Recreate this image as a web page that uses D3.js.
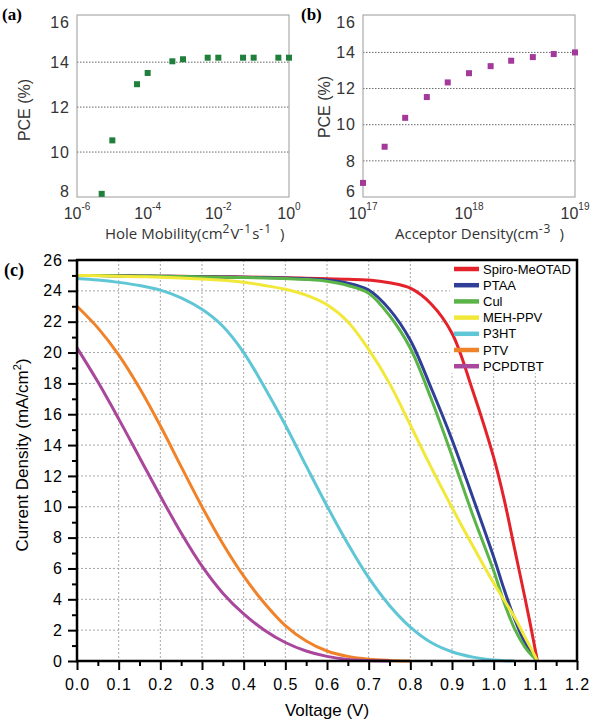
<!DOCTYPE html>
<html>
<head>
<meta charset="utf-8">
<script src="https://cdn.jsdelivr.net/npm/d3@7"></script>
<style>
  body { margin: 0; background: #fff; }
  text { font-family: "Liberation Sans", Arial, sans-serif; }
</style>
</head>
<body>
<div id="chart"></div>
<script>
// (a) PCE vs hole mobility
const mobility = [5e-6, 1e-5, 5e-5, 1e-4, 5e-4, 1e-3, 5e-3, 1e-2, 5e-2, 1e-1, 5e-1, 1];
const pceMobility = [8.14, 10.52, 13.02, 13.52, 14.04, 14.13, 14.2, 14.2, 14.2, 14.2, 14.2, 14.2];
const mobilityTicks = [-6, -4, -2, 0];

// (b) PCE vs acceptor density
const acceptor = [1e17, 1.6e17, 2.5e17, 4e17, 6.3e17, 1e18, 1.6e18, 2.5e18, 4e18, 6.3e18, 1e19];
const pceAcceptor = [6.78, 8.78, 10.38, 11.53, 12.34, 12.85, 13.24, 13.54, 13.74, 13.91, 14.0];
const acceptorTicks = [17, 18, 19];

// (c) J-V curves
const voltage = [0, 0.05, 0.1, 0.15, 0.2, 0.25, 0.3, 0.35, 0.4, 0.45, 0.5, 0.55, 0.6, 0.65,
  0.7, 0.75, 0.8, 0.85, 0.9, 0.95, 1.0, 1.025, 1.05, 1.075, 1.09, 1.105];
const spiro = [25.0, 25.0, 24.98, 24.97, 24.95, 24.94, 24.93, 24.92, 24.9, 24.88, 24.85, 24.82, 24.78, 24.75,
  24.7, 24.52, 24.17, 23.15, 21.25, 17.5, 13.2, 10.5, 7.3, 4.1, 2.1, 0];
const ptaa = [25.0, 24.99, 24.98, 24.96, 24.95, 24.93, 24.92, 24.9, 24.88, 24.86, 24.83, 24.78, 24.7, 24.5,
  24.05, 22.8, 20.8, 17.7, 14.35, 10.6, 6.75, 4.65, 2.75, 1.2, 0.55, 0];
const cui = [25.0, 24.99, 24.97, 24.96, 24.94, 24.93, 24.9, 24.88, 24.86, 24.84, 24.8, 24.74, 24.62, 24.35,
  23.85, 22.4, 20.28, 17.0, 13.3, 9.45, 5.85, 3.8, 2.1, 0.9, 0.4, 0];
const mehppv = [25.0, 24.98, 24.95, 24.92, 24.88, 24.83, 24.77, 24.68, 24.55, 24.35, 24.1, 23.72, 23.1, 22.0,
  20.2, 18.0, 15.3, 12.55, 9.95, 7.45, 5.05, 3.95, 2.85, 1.55, 0.8, 0];
const p3ht = [24.8, 24.7, 24.55, 24.35, 24.05, 23.55, 22.8, 21.7, 20.0, 17.75, 15.3, 12.65, 10.05, 7.6,
  5.4, 3.6, 2.2, 1.2, 0.6, 0.25, 0.06, 0.02, 0, null, null, null];
const ptv = [23.0, 21.6, 19.85, 17.7, 15.25, 12.6, 10.0, 7.6, 5.5, 3.75, 2.3, 1.3, 0.65, 0.3,
  0.12, 0.04, 0, null, null, null, null, null, null, null, null, null];
const pcpdtbt = [20.3, 18.1, 15.7, 13.2, 10.7, 8.3, 6.15, 4.4, 3.05, 2.0, 1.2, 0.65, 0.3, 0.1,
  0.03, 0, null, null, null, null, null, null, null, null, null, null];

const seriesNames = ["Spiro-MeOTAD", "PTAA", "CuI", "MEH-PPV", "P3HT", "PTV", "PCPDTBT"];
const seriesValues = [spiro, ptaa, cui, mehppv, p3ht, ptv, pcpdtbt];
const legendLabels = ["Spiro-MeOTAD", "PTAA", "Cul", "MEH-PPV", "P3HT", "PTV", "PCPDTBT"];
const colors = ["#e3222a", "#2f3e96", "#5ab448", "#f1e83a", "#5fc6d6", "#f0822a", "#a8479b"];

const svg = d3.select("#chart").append("svg")
  .attr("width", 600)
  .attr("height", 724);

// ---------- small scatter panels ----------
function scatterPanel(o) {
  const g = svg.append("g");
  const x = d3.scaleLog().domain(o.xDomain).range([o.left, o.right]);
  const y = d3.scaleLinear().domain(o.yDomain).range([197, 15]);

  g.selectAll(".grid")
    .data(o.grid)
    .enter()
    .append("line")
    .attr("x1", o.left).attr("x2", o.right)
    .attr("y1", (d) => y(d)).attr("y2", (d) => y(d))
    .attr("stroke", "#666")
    .attr("stroke-width", 1)
    .attr("stroke-dasharray", "1.5,1.5");

  g.append("rect")
    .attr("x", o.left).attr("y", 15)
    .attr("width", o.right - o.left).attr("height", 182)
    .attr("fill", "none")
    .attr("stroke", "#9a9a9a")
    .attr("stroke-width", 1);

  g.selectAll(".ylab")
    .data(o.yTicks)
    .enter()
    .append("text")
    .attr("x", o.left - 7)
    .attr("y", (d) => Math.min(Math.max(y(d), 22), 191))
    .attr("dy", "0.36em")
    .attr("text-anchor", "end")
    .style("font-size", "16px")
    .style("letter-spacing", "1px")
    .attr("fill", "#333")
    .text((d) => d);

  const xl = g.selectAll(".xlab")
    .data(o.xTicks)
    .enter()
    .append("text")
    .attr("x", (d) => x(Math.pow(10, d)))
    .attr("y", 219)
    .attr("text-anchor", "middle")
    .style("font-size", "16px")
    .attr("fill", "#333");
  xl.append("tspan").text("10");
  xl.append("tspan").attr("dy", -9).style("font-size", "10px").text((d) => d);

  g.selectAll(".pt")
    .data(o.xs.map((d, i) => [d, o.ys[i]]))
    .enter()
    .append("rect")
    .attr("x", (d) => x(d[0]) - 3)
    .attr("y", (d) => y(d[1]) - 3)
    .attr("width", 6)
    .attr("height", 6)
    .attr("fill", o.color);

  g.append("text")
    .attr("transform", "translate(" + o.titleX + "," + o.titleY + ") rotate(-90)")
    .attr("text-anchor", "middle")
    .style("font-size", "16px")
    .attr("fill", "#333")
    .text("PCE (%)");

  const xt = g.append("text")
    .attr("x", o.xTitleX)
    .attr("y", 239)
    .style("font-family", "'Open Sans', sans-serif")
    .style("font-size", "15px")
    .attr("fill", "#333");
  o.xTitle.forEach((p) => {
    const t = xt.append("tspan").text(p[0]);
    if (p[1]) t.attr("dy", p[1]);
    if (p[1] < 0) t.style("font-size", "12px").style("letter-spacing", "1px");
    if (p[2]) t.attr("dx", p[2]);
  });

  svg.append("text")
    .attr("x", o.tagX).attr("y", 20)
    .style("font-family", "'Liberation Serif', 'Times New Roman', serif")
    .style("font-weight", "bold")
    .style("font-size", "17px")
    .text(o.tag);
}

scatterPanel({
  left: 77, right: 289,
  xDomain: [1e-6, 1], yDomain: [8, 16.1],
  grid: [10, 12, 14], yTicks: [8, 10, 12, 14, 16], xTicks: mobilityTicks,
  xs: mobility, ys: pceMobility, color: "#1f7f3b",
  titleX: 30, titleY: 110, tag: "(a)", tagX: 2,
  xTitleX: 105,
  xTitle: [["Hole Mobility(cm"], ["2", -6], ["V", 6], ["-1", -6], ["s", 6], ["-1", -6], [")", 6, 8]],
});

scatterPanel({
  left: 363, right: 575,
  xDomain: [1e17, 1e19], yDomain: [6, 16.07],
  grid: [8, 10, 12, 14], yTicks: [6, 8, 10, 12, 14, 16], xTicks: acceptorTicks,
  xs: acceptor, ys: pceAcceptor, color: "#a3399b",
  titleX: 330, titleY: 107, tag: "(b)", tagX: 301,
  xTitleX: 395,
  xTitle: [["Acceptor Density(cm"], ["-3", -6], [")", 6, 8]],
});

// ---------- panel (c) ----------
const pLeft = 77, pRight = 577, pTop = 260, pBottom = 661;
const x = d3.scaleLinear().domain([0, 1.2]).range([pLeft, pRight]);
const y = d3.scaleLinear().domain([0, 26]).range([pBottom, pTop]);
const gc = svg.append("g");

// dotted grid
gc.selectAll(".vg")
  .data(d3.range(1, 12).map((i) => i / 10))
  .enter()
  .append("line")
  .attr("x1", (d) => x(d)).attr("x2", (d) => x(d))
  .attr("y1", pTop).attr("y2", pBottom)
  .attr("stroke", "#a8a8a8")
  .attr("stroke-dasharray", "2,2");
gc.selectAll(".hg")
  .data(d3.range(2, 26, 2))
  .enter()
  .append("line")
  .attr("x1", pLeft).attr("x2", pRight)
  .attr("y1", (d) => y(d)).attr("y2", (d) => y(d))
  .attr("stroke", "#a8a8a8")
  .attr("stroke-dasharray", "2,2");

// legend background hides the grid
gc.append("rect")
  .attr("x", 450).attr("y", 261)
  .attr("width", 126).attr("height", 112)
  .attr("fill", "#fff");

const line = d3.line()
  .defined((d) => d[1] !== null)
  .x((d) => x(d[0]))
  .y((d) => y(Math.max(d[1], 0)))
  .curve(d3.curveCatmullRom.alpha(0.5));

gc.selectAll(".curve")
  .data(seriesValues)
  .enter()
  .append("path")
  .attr("d", (vals) => line(voltage.map((v, i) => [v, vals[i]])))
  .attr("fill", "none")
  .attr("stroke", (d, i) => colors[i])
  .attr("stroke-width", 3);

// legend
const lg = gc.selectAll(".legend")
  .data(seriesNames)
  .enter()
  .append("g")
  .attr("transform", (d, i) => "translate(454," + (269 + i * 16.2) + ")");
lg.append("line")
  .attr("x1", 0).attr("x2", 25)
  .attr("stroke", (d, i) => colors[i])
  .attr("stroke-width", 4.5);
lg.append("text")
  .attr("x", 29)
  .attr("y", 4.5)
  .style("font-size", "13px")
  .text((d, i) => legendLabels[i]);

// axes
const axisStyle = (sel) => {
  sel.select(".domain").remove();
  sel.selectAll("line").attr("stroke", "#000").attr("stroke-width", 2);
  sel.selectAll("text")
    .style("font-size", "16px")
    .style("letter-spacing", "1px")
    .attr("fill", "#000");
};

gc.append("g")
  .attr("transform", "translate(" + pLeft + ",0)")
  .call(d3.axisLeft(y).tickValues(d3.range(1, 26, 2)).tickSize(5).tickFormat(""))
  .call(axisStyle);
gc.append("g")
  .attr("transform", "translate(" + pLeft + ",0)")
  .call(d3.axisLeft(y).tickValues(d3.range(0, 27, 2)).tickSize(9).tickPadding(5))
  .call(axisStyle);

gc.append("g")
  .attr("transform", "translate(0," + pBottom + ")")
  .call(d3.axisBottom(x).tickValues(d3.range(0, 12).map((i) => i / 10 + 0.05)).tickSize(5).tickFormat(""))
  .call(axisStyle);
gc.append("g")
  .attr("transform", "translate(0," + pBottom + ")")
  .call(d3.axisBottom(x).tickValues(d3.range(0, 13).map((i) => i / 10)).tickSize(9).tickPadding(9).tickFormat(d3.format(".1f")))
  .call(axisStyle);

gc.append("rect")
  .attr("x", pLeft).attr("y", pTop)
  .attr("width", pRight - pLeft).attr("height", pBottom - pTop)
  .attr("fill", "none")
  .attr("stroke", "#000")
  .attr("stroke-width", 2.5);

// titles
const yt = gc.append("text")
  .attr("transform", "translate(28,455) rotate(-90)")
  .attr("text-anchor", "middle")
  .style("font-size", "17px");
yt.append("tspan").text("Current Density (mA/cm");
yt.append("tspan").attr("dy", -7).style("font-size", "11px").text("2");
yt.append("tspan").attr("dy", 7).text(")");

gc.append("text")
  .attr("x", (pLeft + pRight) / 2)
  .attr("y", 716)
  .attr("text-anchor", "middle")
  .style("font-size", "17px")
  .text("Voltage (V)");

svg.append("text")
  .attr("x", 4).attr("y", 276)
  .style("font-family", "'Liberation Serif', 'Times New Roman', serif")
  .style("font-weight", "bold")
  .style("font-size", "18px")
  .text("(c)");
</script>
</body>
</html>
